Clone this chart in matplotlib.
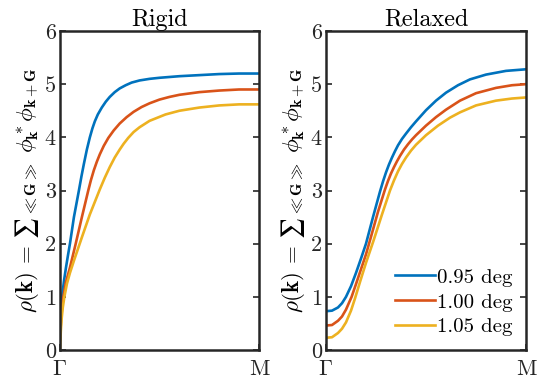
import numpy as np
import matplotlib.pyplot as plt

plt.rcParams['font.family'] = ['cmr10', 'DejaVu Serif']
plt.rcParams['mathtext.fontset'] = 'cm'
plt.rcParams['axes.unicode_minus'] = False

# dados (x: 0 = Gamma, 1 = M)
x_rig_b = [0, 0.004, 0.008, 0.012, 0.02, 0.03, 0.04, 0.05, 0.07, 0.095, 0.108, 0.12, 0.135, 0.15, 0.163, 0.175,
           0.19, 0.21, 0.23, 0.25, 0.275, 0.3, 0.33, 0.36, 0.4, 0.45, 0.5, 0.6, 0.7, 0.8, 0.9, 1.0]
y_rig_b = [0.5, 0.75, 0.92, 1.05, 1.3, 1.55, 1.78, 2.0, 2.5, 3.0, 3.27, 3.5, 3.77, 4.0, 4.17, 4.3,
           4.43, 4.56, 4.67, 4.76, 4.85, 4.92, 4.98, 5.03, 5.07, 5.1, 5.12, 5.15, 5.17, 5.19, 5.2, 5.2]

x_rig_r = [0, 0.005, 0.01, 0.017, 0.03, 0.05, 0.079, 0.11, 0.142, 0.155, 0.17, 0.185, 0.2, 0.22, 0.243, 0.27,
           0.3, 0.335, 0.37, 0.41, 0.45, 0.5, 0.55, 0.6, 0.7, 0.8, 0.9, 1.0]
y_rig_r = [0.2, 0.55, 0.78, 1.0, 1.28, 1.55, 2.0, 2.5, 3.0, 3.19, 3.38, 3.54, 3.68, 3.84, 3.99, 4.13,
           4.26, 4.38, 4.48, 4.57, 4.64, 4.71, 4.76, 4.8, 4.85, 4.88, 4.9, 4.9]

x_rig_y = [0, 0.004, 0.008, 0.014, 0.022, 0.035, 0.05, 0.07, 0.09, 0.11, 0.15, 0.2, 0.225, 0.25, 0.275, 0.3,
           0.32, 0.343, 0.37, 0.4, 0.45, 0.53, 0.6, 0.7, 0.8, 0.9, 1.0]
y_rig_y = [0.0, 0.35, 0.58, 0.8, 1.0, 1.25, 1.45, 1.68, 1.9, 2.12, 2.55, 3.02, 3.24, 3.44, 3.62, 3.77,
           3.88, 3.99, 4.1, 4.19, 4.31, 4.43, 4.5, 4.56, 4.6, 4.62, 4.62]

x_rel_b = [0, 0.03, 0.06, 0.08, 0.1, 0.125, 0.15, 0.175, 0.2, 0.235, 0.27, 0.285, 0.3, 0.315, 0.33, 0.345,
           0.36, 0.38, 0.4, 0.425, 0.45, 0.5, 0.55, 0.6, 0.66, 0.72, 0.8, 0.9, 1.0]
y_rel_b = [0.73, 0.74, 0.8, 0.88, 1.0, 1.2, 1.45, 1.72, 2.0, 2.5, 2.98, 3.17, 3.34, 3.49, 3.62, 3.74,
           3.85, 3.97, 4.07, 4.19, 4.3, 4.51, 4.69, 4.84, 4.98, 5.09, 5.18, 5.25, 5.28]

x_rel_r = [0, 0.03, 0.06, 0.08, 0.1, 0.128, 0.15, 0.175, 0.2, 0.225, 0.26, 0.295, 0.31, 0.325, 0.34, 0.355,
           0.37, 0.39, 0.41, 0.43, 0.45, 0.5, 0.55, 0.6, 0.67, 0.75, 0.85, 0.93, 1.0]
y_rel_r = [0.46, 0.47, 0.55, 0.63, 0.76, 1.0, 1.24, 1.52, 1.8, 2.13, 2.6, 3.02, 3.18, 3.32, 3.44, 3.55,
           3.65, 3.77, 3.87, 3.96, 4.04, 4.22, 4.38, 4.52, 4.69, 4.83, 4.93, 4.98, 5.0]

x_rel_y = [0, 0.03, 0.06, 0.08, 0.1, 0.125, 0.145, 0.17, 0.2, 0.237, 0.28, 0.32, 0.34, 0.36, 0.38, 0.4,
           0.425, 0.45, 0.5, 0.56, 0.62, 0.67, 0.75, 0.85, 0.93, 1.0]
y_rel_y = [0.23, 0.24, 0.32, 0.4, 0.52, 0.74, 0.97, 1.28, 1.64, 2.05, 2.55, 3.0, 3.19, 3.36, 3.5, 3.62,
           3.75, 3.86, 4.04, 4.22, 4.37, 4.47, 4.6, 4.69, 4.73, 4.75]

legenda = ['0.95 deg', '1.00 deg', '1.05 deg']
cores = ['#0072BD', '#D95319', '#EDB120']
titulos = ['Rigid', 'Relaxed']
ylab = r'$\rho(\mathbf{k})\, =\, {\mathrm{∑}}_{\ll\mathbf{G}\gg}\ \phi^*_{\mathbf{k}}\phi_{\mathbf{k}+\mathbf{G}}$'

fig = plt.figure(figsize=(5.38, 3.92), dpi=100)
ax1 = fig.add_axes([60/538, 42/392, 199/538, 319/392])
ax2 = fig.add_axes([326/538, 42/392, 200/538, 319/392])

dados = [
    [(x_rig_b, y_rig_b), (x_rig_r, y_rig_r), (x_rig_y, y_rig_y)],
    [(x_rel_b, y_rel_b), (x_rel_r, y_rel_r), (x_rel_y, y_rel_y)],
]

for ax, titulo, series in zip([ax1, ax2], titulos, dados):
    for (xs, ys), c, lab in zip(series, cores, legenda):
        ax.plot(xs, ys, color=c, linewidth=1.9, label=lab)
    ax.set_xlim(0, 1)
    ax.set_ylim(0, 6)
    ax.set_xticks([0, 1])
    ax.set_xticklabels([r'$\Gamma$', 'M'])
    ax.set_yticks(range(7))
    ax.tick_params(direction='in', length=4, width=1.2, labelsize=16,
                   top=True, right=True, colors='#262626', pad=3)
    ax.tick_params(axis='x', top=False, pad=7)
    for s in ax.spines.values():
        s.set_linewidth(1.8)
        s.set_color('#262626')
    ax.set_title(titulo, fontsize=17.5, pad=2)
    ax.set_ylabel(ylab, fontsize=16.5, labelpad=3)

ax2.legend(loc='lower right', frameon=False, fontsize=15, handlelength=1.9,
           handletextpad=0.1, labelspacing=0.3, borderaxespad=0.25)

plt.savefig('out.png', dpi=100)
